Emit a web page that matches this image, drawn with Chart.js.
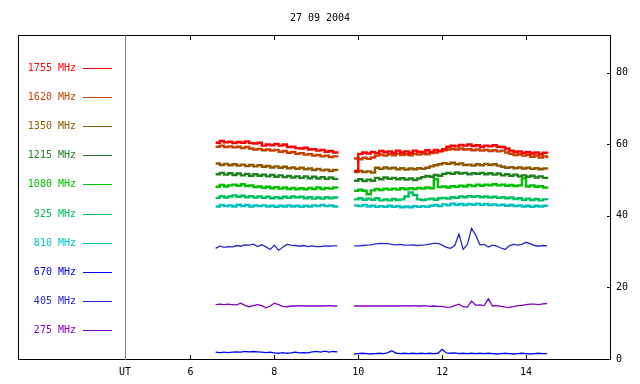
<!DOCTYPE html>
<html>
<head>
<meta charset="utf-8">
<script src="https://cdn.jsdelivr.net/npm/chart.js@4/dist/chart.umd.min.js"></script>
<style>
  html, body { margin: 0; padding: 0; background: #fff; }
</style>
</head>
<body>
<canvas id="radioChart" width="640" height="384"></canvas>
<script>
// UT hours of the samples (null gap at 9.7 between the two observing runs)
const hours = [
  6.6, 6.7, 6.8, 6.9, 7.0, 7.1, 7.2, 7.3, 7.4, 7.5,
  7.6, 7.7, 7.8, 7.9, 8.0, 8.1, 8.2, 8.3, 8.4, 8.5,
  8.6, 8.7, 8.8, 8.9, 9.0, 9.1, 9.2, 9.3, 9.4, 9.5,
  9.7,
  9.9, 10.0, 10.1, 10.2, 10.3, 10.4, 10.5, 10.6, 10.7, 10.8,
  10.9, 11.0, 11.1, 11.2, 11.3, 11.4, 11.5, 11.6, 11.7, 11.8,
  11.9, 12.0, 12.1, 12.2, 12.3, 12.4, 12.5, 12.6, 12.7, 12.8,
  12.9, 13.0, 13.1, 13.2, 13.3, 13.4, 13.5, 13.6, 13.7, 13.8,
  13.9, 14.0, 14.1, 14.2, 14.3, 14.4, 14.5
];

const f1755 = [
  60.4, 60.9, 60.5, 60.7, 60.3, 60.6, 60.4, 60.8, 60.3, 60.2,
  60.4, 59.6, 59.9, 59.7, 60.1, 59.6, 59.9, 59.2, 59.3, 58.9,
  58.8, 59.0, 58.5, 58.6, 58.2, 58.4, 57.9, 58.1, 57.7, 58.0,
  null,
  52.5, 57.3, 57.7, 57.4, 57.8, 57.5, 58.1, 57.8, 58.0, 57.6,
  58.2, 57.7, 58.0, 57.6, 58.2, 57.9, 57.8, 58.3, 57.8, 58.4,
  58.1, 58.6, 59.3, 59.6, 59.4, 59.8, 59.6, 59.9, 59.5, 59.7,
  59.2, 59.6, 59.4, 59.7, 59.3, 59.2, 58.8, 58.2, 57.9, 58.0,
  57.6, 57.8, 57.4, 57.7, 57.2, 57.6, 57.3
];
const f1620 = [
  59.3, 59.6, 59.2, 59.4, 59.1, 59.3, 58.9, 59.2, 58.8, 58.5,
  58.7, 58.3, 58.5, 58.2, 58.4, 57.9, 58.1, 57.6, 57.8, 57.3,
  57.5, 57.1, 57.2, 56.8, 57.0, 56.6, 56.8, 56.4, 56.6, 56.3,
  null,
  56.0, 55.8, 56.2, 55.9, 56.3, 56.8, 57.1, 56.8, 57.2, 56.9,
  57.3, 57.0, 57.2, 56.9, 57.3, 57.1, 57.4, 57.2, 57.5, 57.7,
  58.0, 58.3, 58.5, 58.7, 58.5, 58.8, 58.5, 58.6, 58.3, 58.5,
  58.2, 58.4, 58.1, 58.3, 58.0, 58.2, 57.7, 57.3, 57.0, 57.2,
  56.8, 57.0, 56.5, 56.8, 56.3, 56.6, 56.1
];
const f1350 = [
  54.6, 54.2, 54.5, 54.1, 54.4, 54.0, 54.3, 53.9, 54.2, 53.8,
  54.1, 53.7, 53.9, 53.5, 53.8, 53.4, 53.7, 53.3, 53.5, 53.1,
  53.4, 53.0, 53.2, 52.8, 53.1, 52.7, 52.9, 52.5, 52.8, 52.6,
  null,
  52.2, 52.5, 52.2, 52.4, 52.1, 53.4, 53.1, 53.5, 53.2, 53.4,
  53.0, 53.3, 52.9, 53.2, 53.0, 53.3, 53.1, 53.4, 53.8, 54.1,
  54.4, 54.7, 54.5, 54.8, 54.4, 54.6, 54.2, 54.3, 54.0, 54.4,
  54.1, 54.5, 54.2, 54.4, 54.0, 53.7, 53.4, 53.6, 53.3, 53.5,
  53.2, 53.4, 53.1, 53.3, 53.0, 53.2, 52.9
];
const f1215 = [
  51.6, 52.0, 51.5, 51.9, 51.4, 51.8, 51.3, 51.7, 51.2, 51.6,
  51.2, 51.5, 51.0, 51.4, 50.9, 51.3, 50.8, 51.1, 50.7, 51.0,
  50.6, 51.0, 50.5, 50.9, 50.4, 50.8, 50.3, 50.7, 50.3, 50.5,
  null,
  49.8, 50.2, 49.7, 50.1, 49.8, 50.6, 50.2, 50.7, 50.3, 50.6,
  50.2, 50.5, 50.1, 50.4, 50.0, 50.4, 50.8, 51.1, 50.9, 51.4,
  51.2, 51.7, 52.0, 51.7, 52.1, 51.8, 52.0, 51.6, 51.9, 51.7,
  52.0, 51.6, 51.9, 51.5, 51.8, 51.3, 51.6, 51.2, 51.5, 51.0,
  51.3, 50.9, 51.2, 50.7, 51.0, 50.6, 50.9
];
const f1080 = [
  48.1, 48.6, 48.2, 48.5, 48.7, 48.4, 48.8, 48.3, 48.5, 48.0,
  48.2, 47.8, 48.1, 47.7, 48.0, 47.6, 47.9, 47.5, 47.8, 47.4,
  47.7, 47.4, 47.8, 47.5, 47.9, 47.5, 47.8, 47.6, 47.9, 47.7,
  null,
  47.0, 47.3, 47.0, 46.0, 47.1, 47.5, 47.2, 47.6, 47.3, 47.6,
  47.3, 47.7, 47.4, 47.7, 47.5, 47.8, 47.6, 47.9, 47.7, 50.2,
  48.0, 48.2, 47.9, 48.3, 48.1, 48.4, 48.2, 48.6, 48.3, 48.7,
  48.4, 48.7, 48.5, 48.8, 48.5, 48.7, 48.4, 48.6, 48.3, 48.5,
  50.4, 48.2, 48.5, 48.1, 48.3, 47.9, 48.1
];
const f925 = [
  45.0, 45.5, 45.1, 45.4, 45.7, 45.3, 45.6, 45.2, 45.5, 45.1,
  45.4, 45.0, 45.3, 44.9, 45.2, 44.9, 45.3, 45.0, 45.4, 45.1,
  45.3, 44.9, 45.2, 44.8, 45.1, 44.8, 45.2, 44.9, 45.1, 44.9,
  null,
  44.6, 44.9, 44.5, 44.8, 44.5, 44.9, 44.3, 44.6, 44.3, 44.7,
  44.4, 44.6, 45.4, 46.5, 45.8, 44.6, 44.4, 44.6, 44.8, 44.5,
  44.9, 45.0, 44.8, 45.2, 45.0, 45.4, 45.2, 45.5, 45.3, 45.5,
  45.2, 45.4, 45.1, 45.3, 45.0, 45.2, 44.9, 45.1, 44.7, 44.9,
  44.5, 44.8, 44.4, 44.7, 44.3, 44.6, 44.4
];
const f810 = [
  42.6, 43.0, 42.7, 42.9, 42.6, 43.1, 42.7, 43.0, 42.6, 42.9,
  42.7, 42.9, 42.6, 42.8, 42.5, 42.8, 42.6, 42.9, 42.6, 42.8,
  42.5, 42.8, 42.6, 42.9, 42.7, 43.0, 42.7, 42.9, 42.6, 42.8,
  null,
  42.9, 42.7, 43.0, 42.6, 42.8, 42.5, 42.7, 42.5, 42.8, 42.5,
  42.7, 42.4, 42.6, 42.4, 42.7, 42.5, 42.7, 42.5, 42.8, 43.0,
  42.7, 43.2, 42.9, 43.4, 43.1, 43.3, 43.0, 43.3, 43.1, 43.4,
  43.1, 43.3, 43.0, 43.2, 42.9, 43.1, 42.8, 43.0, 42.7, 42.9,
  42.6, 42.8, 42.5, 42.8, 42.6, 42.8, 42.6
];
const f670 = [
  1.9, 1.8, 1.9, 1.8, 1.9, 2.0, 1.9, 2.1, 2.0, 2.1,
  2.0, 1.9, 1.8, 1.9, 1.7, 1.6, 1.8, 1.6, 1.7, 1.9,
  1.7, 1.8, 1.7, 2.0, 2.1, 1.9, 2.2, 1.9, 2.1, 2.0,
  null,
  1.4, 1.5, 1.6, 1.5, 1.4, 1.5, 1.6, 1.5, 1.7, 2.3,
  1.6, 1.5, 1.6, 1.5, 1.6, 1.5, 1.6, 1.5, 1.6, 1.5,
  1.6, 2.7, 1.7, 1.6, 1.7, 1.5, 1.6, 1.5, 1.6, 1.5,
  1.6, 1.5, 1.6, 1.5, 1.4, 1.5, 1.6, 1.5, 1.4, 1.5,
  1.6, 1.5, 1.4, 1.5, 1.6, 1.5, 1.5
];
const f405 = [
  30.9, 31.6, 31.2, 31.4, 31.3, 31.7, 31.5, 31.9, 31.8, 32.1,
  31.4, 31.9, 31.3, 30.6, 31.8, 30.4, 31.2, 32.0, 31.8, 31.7,
  31.5, 31.7, 31.4, 31.6, 31.4, 31.4, 31.6, 31.5, 31.6, 31.6,
  null,
  31.6, 31.6, 31.7, 31.8, 31.9, 32.1, 32.3, 32.2, 32.2, 32.0,
  31.9, 32.0, 31.8, 31.8, 31.9, 31.7, 31.8, 31.9, 32.1, 32.3,
  32.3, 31.8, 31.2, 30.9, 31.7, 34.9, 30.6, 32.0, 36.5, 34.6,
  31.9, 32.0, 31.3, 31.8, 31.5, 31.0, 30.6, 31.6, 32.0, 31.8,
  32.0, 32.6, 32.2, 31.7, 31.5, 31.7, 31.6
];
const f275 = [
  15.2, 15.3, 15.2, 15.3, 15.2, 15.1, 15.6, 15.0, 14.6, 14.9,
  15.2, 14.9, 14.3, 14.8, 15.6, 15.2, 14.7, 14.6, 14.8, 14.8,
  14.9, 14.8, 14.8, 14.8, 14.8, 14.8, 14.8, 14.9, 14.8, 14.8,
  null,
  14.8, 14.8, 14.8, 14.8, 14.8, 14.8, 14.8, 14.8, 14.8, 14.8,
  14.8, 14.8, 14.9, 14.8, 14.9, 14.8, 14.8, 14.9, 14.7, 14.8,
  14.7, 14.7, 14.4, 14.5, 14.9, 15.3, 14.6, 14.5, 16.2, 15.0,
  15.1, 14.9, 16.8, 14.8, 14.9, 14.7, 14.5, 14.4, 14.6, 14.9,
  15.0, 15.2, 15.3, 15.3, 15.2, 15.4, 15.5
];

const labels = ['1755 MHz', '1620 MHz', '1350 MHz', '1215 MHz', '1080 MHz',
                '925 MHz', '810 MHz', '670 MHz', '405 MHz', '275 MHz'];
const seriesValues = [f1755, f1620, f1350, f1215, f1080, f925, f810, f670, f405, f275];
const colors = ['#ff0000', '#c84000', '#8c5a00', '#208020', '#00c000',
                '#00c060', '#00c0c0', '#0000ff', '#2828c8', '#8000c0'];

const xTicks = [6, 8, 10, 12, 14];
const yTicks = [0, 20, 40, 60, 80];
const X_MIN = 4.44, X_MAX = 16;
const Y_MAX = 90.5;
const FONT = '10px "DejaVu Sans Mono", monospace';

// frame, ticks, title and legend in the old plotting-program style
const framePlugin = {
  id: 'frame',
  afterDraw(chart) {
    const ctx = chart.ctx;
    const xs = chart.scales.x, ys = chart.scales.y;
    const bottom = chart.chartArea.bottom, top = chart.chartArea.top;
    const right = chart.chartArea.right, left = chart.chartArea.left;
    ctx.save();
    ctx.lineWidth = 1;
    ctx.strokeStyle = '#000';
    ctx.strokeRect(18.5, top + 0.5, right - 18, bottom - top);

    ctx.strokeStyle = '#808080';
    ctx.beginPath();
    ctx.moveTo(left + 0.5, top);
    ctx.lineTo(left + 0.5, bottom + 1);
    ctx.stroke();

    ctx.strokeStyle = '#000';
    ctx.beginPath();
    xTicks.forEach(v => {
      const px = Math.round(xs.getPixelForValue(v)) + 0.5;
      ctx.moveTo(px, bottom); ctx.lineTo(px, bottom - 4);
      ctx.moveTo(px, top + 1); ctx.lineTo(px, top + 5);
    });
    yTicks.forEach(v => {
      const py = Math.round(ys.getPixelForValue(v)) + 0.5;
      ctx.moveTo(right, py); ctx.lineTo(right - 3, py);
    });
    ctx.stroke();

    ctx.font = FONT;
    ctx.fillStyle = '#000';
    ctx.textAlign = 'center';
    ctx.textBaseline = 'middle';
    ctx.fillText('27 09 2004', 320, 18);

    ctx.textAlign = 'right';
    chart.data.datasets.forEach((ds, i) => {
      const y = Math.round(67.5 + i * 29.2);
      ctx.fillStyle = ds.borderColor;
      ctx.fillText(ds.label, 76, y);
      ctx.strokeStyle = ds.borderColor;
      ctx.beginPath();
      ctx.moveTo(83, y + 0.5);
      ctx.lineTo(112, y + 0.5);
      ctx.stroke();
    });
    ctx.restore();
  }
};

// upper channels are noisy bands, the lower three are thin wavy traces
const datasets = seriesValues.map((vals, i) => ({
  label: labels[i],
  data: hours.map((h, j) => ({ x: h, y: vals[j] })),
  borderColor: colors[i],
  borderWidth: i < 7 ? 2.4 : 1.3,
  stepped: i < 7,
  pointRadius: 0,
  spanGaps: false,
  fill: false
}));

new Chart(document.getElementById('radioChart').getContext('2d'), {
  type: 'line',
  data: { datasets },
  options: {
    responsive: false,
    animation: false,
    layout: { padding: { left: 125, top: 35, right: 0, bottom: 0 } },
    plugins: {
      legend: { display: false },
      title: { display: false },
      tooltip: { enabled: false }
    },
    scales: {
      x: {
        type: 'linear',
        min: X_MIN,
        max: X_MAX,
        grid: { display: false, drawTicks: false },
        border: { display: false },
        afterBuildTicks: s => { s.ticks = [X_MIN].concat(xTicks).map(v => ({ value: v })); },
        afterFit: s => { s.height = 25; },
        ticks: {
          padding: 7,
          color: '#000',
          font: { family: '"DejaVu Sans Mono", monospace', size: 10 },
          autoSkip: false,
          maxRotation: 0,
          callback: v => (v === X_MIN ? 'UT' : v)
        }
      },
      y: {
        position: 'right',
        min: 0,
        max: Y_MAX,
        grid: { display: false, drawTicks: false },
        border: { display: false },
        afterBuildTicks: s => { s.ticks = yTicks.map(v => ({ value: v })); },
        afterFit: s => { s.width = 30; },
        ticks: {
          padding: 6,
          color: '#000',
          font: { family: '"DejaVu Sans Mono", monospace', size: 10 }
        }
      }
    }
  },
  plugins: [framePlugin]
});
</script>
</body>
</html>
